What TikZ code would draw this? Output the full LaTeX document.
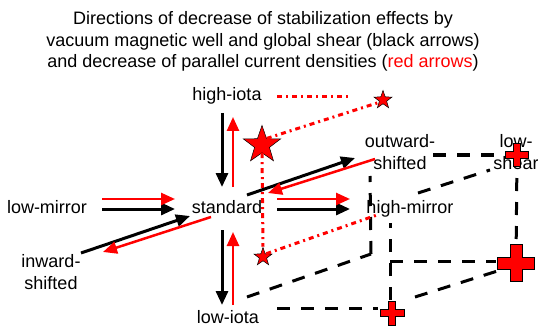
\documentclass[tikz,border=0pt]{standalone}
\usepackage{fontspec}
\setmainfont{Liberation Sans}
\usetikzlibrary{arrows.meta,shapes.geometric}
\definecolor{arrowred}{HTML}{FF0000}

\begin{document}
\begin{tikzpicture}[x=1pt,y=-1pt,font={\fontsize{18}{22}\selectfont},
  tag/.style={inner sep=2pt,anchor=base,align=center},
  blackarrow/.style={line width=3pt,-{Triangle[length=14pt,width=12pt]}},
  redarrow/.style={arrowred,line width=2.5pt,-{Triangle[length=14pt,width=12pt]}},
  reddots/.style={arrowred,line width=3pt,dash pattern=on 5pt off 4pt on 2pt off 4pt},
  blackdash/.style={line width=3pt,dash pattern=on 13pt off 11pt},
  redstar/.style={star,star points=5,star point ratio=2.5,fill=arrowred,draw=black,line width=.5pt,inner sep=0pt,minimum size=#1}]
  \useasboundingbox (0,0) rectangle (538,326);
  \newcommand{\plusmark}[3]{\filldraw[fill=arrowred,draw=black,line width=.6pt,shift={(#1)}] (-#2,-#3) -- (-#3,-#3) -- (-#3,-#2) -- (#3,-#2) -- (#3,-#3) -- (#2,-#3) -- (#2,#3) -- (#3,#3) -- (#3,#2) -- (-#3,#2) -- (-#3,#3) -- (-#2,#3) -- cycle;}
  % Title (base anchor sits on its last line).
  \node[tag,font={\fontsize{18}{21.5}\selectfont}] (title) at (263,68) {Directions of decrease of stabilization effects by\\vacuum magnetic well and global shear (black arrows)\\and decrease of parallel current densities ({\color{arrowred}red arrows})};
  % Configurations.
  \node[tag] (hiota) at (227,101) {high-iota};
  \node[tag] (std) at (227,213) {standard};
  \node[tag] (lmirror) at (47,213) {low-mirror};
  \node[tag] (hmirror) at (410,213) {high-mirror};
  \node[tag] (liota) at (228,323) {low-iota};
  \node[tag] (inshift) at (51,289) {inward-\\shifted};
  \node[tag] (outshift) at (400,169) {outward-\\shifted};
  \node[tag] (lshear) at (516,169) {low-\\shear};
  \node[redstar=39pt] (starbig) at (262,145) {};
  \node[redstar=19pt] (startop) at (383,100) {};
  \node[redstar=19pt] (starlow) at (263,257) {};
  \coordinate (crossup) at (517,155); \coordinate (crossbig) at (516,263); \coordinate (crosslow) at (392,313);
  \coordinate (back) at (371,254); \coordinate (mid) at (390,261);
  % Black dashed box.
  \draw[blackdash] ([shift={(49,-15)}]liota.base) -- ([shift={(-14,-5)}]crosslow);
  \draw[blackdash] ([shift={(19,-26)}]liota.base) -- (back);
  \draw[blackdash] (back) -- ([shift={(-30,7)}]outshift.base);
  \draw[blackdash] ([shift={(33,-14)}]outshift.base) -- (crossup);
  \draw[blackdash] ([shift={(-2,-13)}]crosslow) -- ([shift={(-20,10)}]hmirror.base);
  \draw[blackdash] ([shift={(8,-20)}]hmirror.base) -- ([shift={(-27,15)}]crossup);
  \draw[blackdash] (mid) -- ([shift={(-20,-2)}]crossbig);
  \draw[blackdash] (crossbig) -- (crossup);
  \draw[blackdash] ([shift={(23,-16)}]crosslow) -- ([shift={(-9,5)}]crossbig);
  % Red dotted lines between the stars.
  \draw[reddots] ([shift={(50,-4)}]hiota.base) -- ([shift={(-35,-3)}]startop.center);
  \draw[reddots] (starbig.54) -- (startop.210);
  \draw[reddots] (starbig.south) -- (starlow.north);
  \draw[reddots] (starlow.45) -- ([shift={(-33,2)}]hmirror.base);
  % Arrows: black down the stabilization, red down the currents.
  \draw[blackarrow] ([shift={(-5,12)}]hiota.base) -- ([shift={(-5,-26)}]std.base);
  \draw[redarrow] ([shift={(6,-26)}]std.base) -- ([shift={(6,16)}]hiota.base);
  \draw[blackarrow] ([shift={(-5,17)}]std.base) -- ([shift={(-6,-18)}]liota.base);
  \draw[redarrow] ([shift={(5,-18)}]liota.base) -- ([shift={(6,19)}]std.base);
  \draw[blackarrow] ([shift={(55,-4)}]lmirror.base) -- ([shift={(-52,-4)}]std.base);
  \draw[redarrow] ([shift={(55,-14)}]lmirror.base) -- ([shift={(-52,-14)}]std.base);
  \draw[blackarrow] ([shift={(50,-4)}]std.base) -- ([shift={(-60,-4)}]hmirror.base);
  \draw[redarrow] ([shift={(50,-14)}]std.base) -- ([shift={(-60,-14)}]hmirror.base);
  \draw[blackarrow] ([shift={(30,-36)}]inshift.base) -- ([shift={(-37,3)}]std.base);
  \draw[redarrow] ([shift={(-16,4)}]std.base) -- ([shift={(52,-37)}]inshift.base);
  \draw[blackarrow] ([shift={(20,-18)}]std.base) -- ([shift={(-45,-11)}]outshift.base);
  \draw[redarrow] ([shift={(-25,-10)}]outshift.base) -- ([shift={(41,-20)}]std.base);
  % Red crosses.
  \plusmark{crossup}{11.5}{3.5}
  \plusmark{crossbig}{18.5}{6}
  \plusmark{crosslow}{12}{3.5}
\end{tikzpicture}
\end{document}
